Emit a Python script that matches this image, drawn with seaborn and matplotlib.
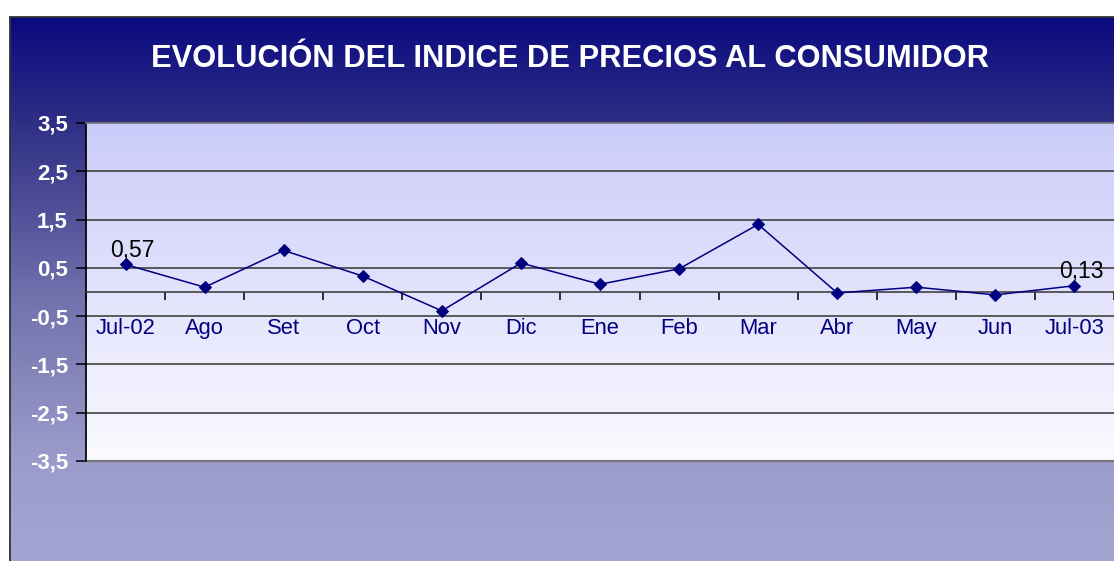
import numpy as np
import pandas as pd
import matplotlib
matplotlib.use('Agg')
import matplotlib.pyplot as plt
import seaborn as sns
from matplotlib.colors import LinearSegmentedColormap

# --- DATA ---
meses = ['Jul-02', 'Ago', 'Set', 'Oct', 'Nov', 'Dic', 'Ene',
         'Feb', 'Mar', 'Abr', 'May', 'Jun', 'Jul-03']
ipc = [0.57, 0.10, 0.86, 0.33, -0.39, 0.60, 0.16,
       0.48, 1.40, -0.02, 0.10, -0.06, 0.13]
y_ticks = [3.5, 2.5, 1.5, 0.5, -0.5, -1.5, -2.5, -3.5]
titulo = 'EVOLUCIÓN DEL INDICE DE PRECIOS AL CONSUMIDOR'

df = pd.DataFrame({'pos': np.arange(len(meses)), 'mes': meses, 'ipc': ipc})

sns.set_theme(style='white')
plt.rcParams['font.family'] = ['Liberation Sans', 'DejaVu Sans']

W, H = 1114, 561
fig = plt.figure(figsize=(W / 100, H / 100), dpi=100)
fig.patch.set_facecolor('white')

# outer chart area with vertical gradient
bg = fig.add_axes([10 / W, 0, (W - 10) / W, (H - 17) / H])
outer_cmap = LinearSegmentedColormap.from_list(
    'outer', [(0, '#0a0a80'), (0.19, '#2e2e85'), (0.52, '#7272ad'),
              (0.82, '#9c9ccc'), (1, '#a5a5d3')])
bg.imshow(np.linspace(0, 1, 256).reshape(-1, 1), aspect='auto',
          cmap=outer_cmap, extent=[0, 1, 0, 1])
bg.set_xlim(0, 1)
bg.set_ylim(0, 1)
bg.set_xticks([])
bg.set_yticks([])
for s in ['left', 'top']:
    bg.spines[s].set_color('#333333')
    bg.spines[s].set_linewidth(1.3)
for s in ['right', 'bottom']:
    bg.spines[s].set_visible(False)

fig.text(570 / W, 1 - 59 / H, titulo, color='white', fontsize=22.2,
         fontweight='bold', ha='center', va='center')

# plot area
ax = fig.add_axes([86 / W, (H - 461) / H, (W - 86) / W, 338 / H])
ax.set_facecolor('none')
inner_cmap = LinearSegmentedColormap.from_list('inner', ['#fafaff', '#cbcbfa'])
ax.imshow(np.linspace(0, 1, 256).reshape(-1, 1), aspect='auto', cmap=inner_cmap,
          origin='lower', extent=[-0.5, len(meses) - 0.5, -3.5, 3.5], zorder=0)

for yv in y_ticks[1:-1]:
    ax.axhline(yv, color='#333333', lw=1.1, zorder=1)

sns.lineplot(data=df, x='pos', y='ipc', ax=ax, color='#000080', lw=1.1,
             marker='D', markersize=6, markeredgecolor='#000080', zorder=3)

ax.set_xlim(-0.5, len(meses) - 0.5)
ax.set_ylim(-3.5, 3.5)
ax.set_xlabel('')
ax.set_ylabel('')

# y axis
ax.set_yticks(y_ticks)
ax.set_yticklabels([f'{v:.1f}'.replace('.', ',') for v in y_ticks],
                   color='white', fontsize=16, fontweight='bold')
ax.tick_params(axis='y', direction='out', length=7, width=1.1, color='black', pad=6, left=True)

# x axis crossing at zero
ax.spines['bottom'].set_position(('data', 0))
ax.spines['bottom'].set_color('#333333')
ax.spines['bottom'].set_linewidth(1.1)
ax.spines['right'].set_visible(False)
ax.spines['top'].set_color('#777777')
ax.spines['left'].set_color('black')
ax.set_xticks(np.arange(len(meses)))
ax.set_xticklabels(meses, color='#000080', fontsize=15.8)
ax.set_xticks(np.arange(len(meses) + 1) - 0.5, minor=True)
ax.tick_params(axis='x', which='major', length=0, pad=19, bottom=True)
ax.tick_params(axis='x', which='minor', direction='out', length=6, width=1.1,
               color='black', bottom=True)

# bottom border of plot area
ax.axhline(-3.5, color='#777777', lw=1.5, zorder=2, clip_on=False)

# data labels on first and last point
for i in [0, len(meses) - 1]:
    ax.annotate(f'{ipc[i]:.2f}'.replace('.', ','), (i, ipc[i]),
                xytext=(5, 2), textcoords='offset points',
                ha='center', va='bottom', fontsize=16.5, color='black', zorder=4)

fig.savefig('out.png', dpi=100)
